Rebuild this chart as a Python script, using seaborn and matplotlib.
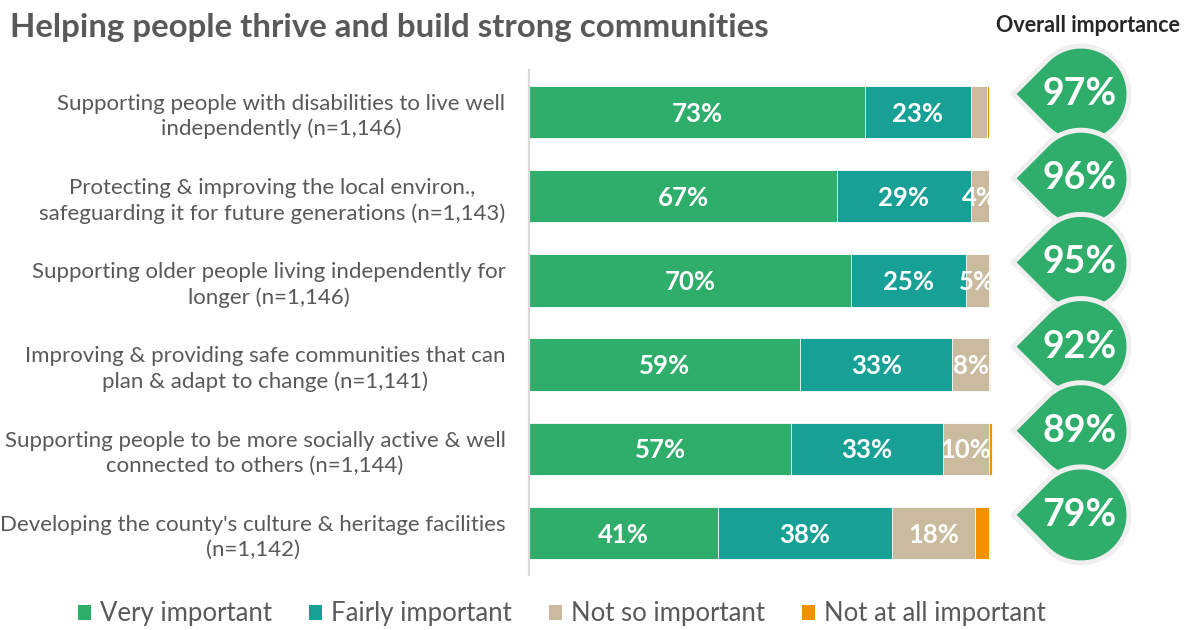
import numpy as np
import matplotlib
matplotlib.use("Agg")
import matplotlib.pyplot as plt
from matplotlib.patches import Polygon, Patch
import seaborn as sns

# ---- data -------------------------------------------------------------
categories = [
    "Supporting people with disabilities to live well\nindependently (n=1,146)",
    "Protecting & improving the local environ.,\nsafeguarding it for future generations (n=1,143)",
    "Supporting older people living independently for\nlonger (n=1,146)",
    "Improving & providing safe communities that can\nplan & adapt to change (n=1,141)",
    "Supporting people to be more socially active & well\nconnected to others (n=1,144)",
    "Developing the county's culture & heritage facilities\n(n=1,142)",
]
very_important = [73, 67, 70, 59, 57, 41]
fairly_important = [23, 29, 25, 33, 33, 38]
not_so_important = [3.5, 4, 5, 8, 10, 18]
not_at_all_important = [0.5, 0, 0.3, 0.3, 0.7, 3]
overall_importance = [97, 96, 95, 92, 89, 79]

series_names = ["Very important", "Fairly important", "Not so important", "Not at all important"]
series_colors = ["#2EAD6B", "#17A096", "#CBBB9E", "#F39200"]

# ---- style ------------------------------------------------------------
sns.set_theme(style="white")
plt.rcParams["font.family"] = ["Lato", "DejaVu Sans"]
TEXT_GREY = "#595959"

W, H = 1197, 630
fig = plt.figure(figsize=(W / 100, H / 100), dpi=100)

XMAX = 100.8
ax_left_px, ax_right_px = 529, 529 + 460 * XMAX / 100
ax_top_px, ax_bot_px = 70, 575
ax = fig.add_axes([ax_left_px / W, 1 - ax_bot_px / H,
                   (ax_right_px - ax_left_px) / W, (ax_bot_px - ax_top_px) / H])

# stacked bars: draw cumulative totals from the widest down
stack = np.array([very_important, fairly_important, not_so_important, not_at_all_important], dtype=float)
cum = np.cumsum(stack, axis=0)
for k in range(3, -1, -1):
    sns.barplot(x=cum[k], y=categories, orient="h", color=series_colors[k],
                width=0.62, errorbar=None, edgecolor="white", linewidth=0.6,
                saturation=1, ax=ax)

ax.set_xlim(0, XMAX)
ax.set_ylim(5.5, -0.5)
ax.xaxis.set_visible(False)
ax.set_ylabel("")
for s in ("top", "right", "bottom"):
    ax.spines[s].set_visible(False)
ax.spines["left"].set_color("#D9D9D9")
ax.spines["left"].set_linewidth(1.6)
ax.tick_params(axis="y", length=0, pad=17, labelsize=16, labelcolor=TEXT_GREY)
for t in ax.get_yticklabels():
    t.set_multialignment("center")
    t.set_linespacing(1.3)

# segment value labels
starts = cum - stack
for k in range(3):
    for i in range(len(categories)):
        v = stack[k, i]
        if v >= 4:
            ax.text(starts[k, i] + v / 2, i + 0.02, f"{v:g}%", ha="center", va="center",
                    color="white", fontsize=18.5, fontweight="bold")

# ---- overall importance badges -----------------------------------------
bx_left_px, bx_right_px = 990, W
unit_px = (ax_bot_px - ax_top_px) / len(categories)
bax = fig.add_axes([bx_left_px / W, 1 - ax_bot_px / H,
                    (bx_right_px - bx_left_px) / W, (ax_bot_px - ax_top_px) / H])
bax.set_xlim(0, (bx_right_px - bx_left_px) / unit_px)
bax.set_ylim(5.5, -0.5)
bax.axis("off")

r = 48 / unit_px
cx = (1081 - bx_left_px) / unit_px
dy = -18 / unit_px
theta = np.deg2rad(np.linspace(225, 495, 120))
for i, val in enumerate(overall_importance):
    cy = i + dy
    pts = [(cx - r * np.sqrt(2), cy)]
    pts += [(cx + r * np.cos(t), cy - r * np.sin(t)) for t in theta]
    badge = Polygon(pts, closed=True, facecolor=series_colors[0], edgecolor="#EFEFEF",
                    linewidth=3.6, joinstyle="round", clip_on=False, zorder=2 + i)
    bax.add_patch(badge)
    bax.text(cx - 0.02, cy, f"{val}%", ha="center", va="center", color="white",
             fontsize=27, fontweight="bold", zorder=2 + i, clip_on=False)

# ---- titles & legend ----------------------------------------------------
fig.text(10 / W, 1 - 28 / H, "Helping people thrive and build strong communities",
         ha="left", va="center", fontsize=23.8, fontweight="bold", color=TEXT_GREY)
fig.text(1088 / W, 1 - 25 / H, "Overall importance", ha="center", va="center",
         fontsize=15.5, fontweight="bold", color="#262626")

handles = [Patch(facecolor=c, edgecolor="none") for c in series_colors]
fig.legend(handles, series_names, loc="center", bbox_to_anchor=(562 / W, 1 - 614 / H),
           ncol=4, frameon=False, fontsize=18.5, labelcolor=TEXT_GREY,
           handlelength=0.5, handleheight=0.5, handletextpad=0.35, columnspacing=1.45)

fig.savefig("out.png", dpi=100)
